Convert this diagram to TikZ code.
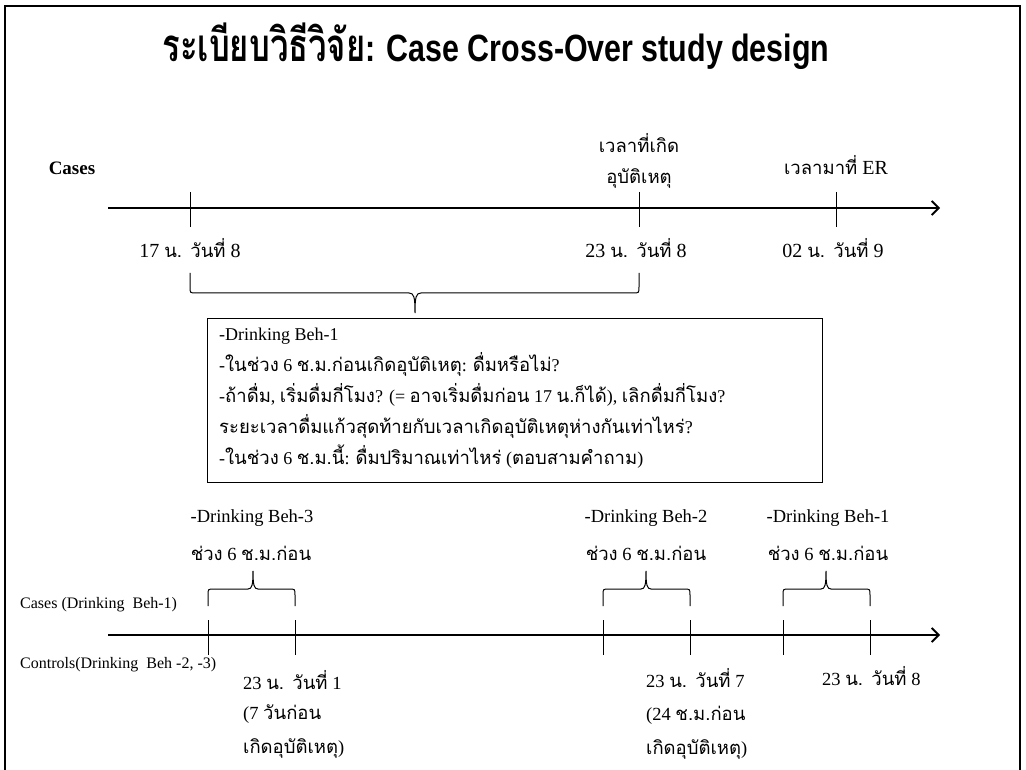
\documentclass[tikz,border=0pt]{standalone}
\usepackage{fontspec}
\setmainfont{Liberation Serif}
\newfontfamily\thai[Script=Thai]{Loma}
\newfontfamily\titlefont[FakeStretch=0.8]{Liberation Sans}
\newfontfamily\titlethai[Script=Thai,FakeStretch=0.72,Scale=1.2]{Loma}
\newcommand\tx[1]{{\thai\fontsize{18.5}{20}\selectfont #1}}
\usetikzlibrary{arrows.meta}
\tikzset{
  lab/.style={inner sep=0pt, anchor=center},
  labw/.style={inner sep=0pt, anchor=west},
  toplab/.style={lab, font=\fontsize{20}{22}\selectfont},
  axis/.style={line width=1.8pt, -{Straight Barb[length=7pt,width=14pt]}},
  tick/.style={line width=1pt},
  brace/.style={line width=1pt},
  frame/.style={line width=2.5pt},
}
\begin{document}
\begin{tikzpicture}[x=1pt,y=-1pt,font=\fontsize{18.5}{20}\selectfont]
\useasboundingbox (0,0) rectangle (1026,770);
\clip (0,0) rectangle (1026,770);
\fill[white] (0,0) rectangle (1026,770);
\draw[frame] (5,790) -- (5,6) -- (1020,6) -- (1020,790);

% title
\node[lab] (title) at (496,46) {\bfseries\fontsize{38}{40}\selectfont{\titlethai ระเบียบวิธีวิจัย}{\titlefont : Case Cross-Over study design}};

% top timeline
\node[lab] (cases) at (72,168) {\bfseries\fontsize{19}{20}\selectfont Cases};
\coordinate (a0) at (108,208);
\coordinate (a1) at (940,208);
\draw[axis] (a0) -- (a1);
\foreach \x/\n in {190/t1,639/t2,836/t3}{
  \coordinate (\n u) at (\x,192);
  \coordinate (\n d) at (\x,227);
  \draw[tick] (\n u) -- (\n d);
}
\node[toplab] (l1) at (190,248) {17 \tx{น. วันที่} 8};
\node[toplab] (l2) at (636,248) {23 \tx{น. วันที่} 8};
\node[toplab] (l3) at (833,248) {02 \tx{น. วันที่} 9};
\node[toplab] (ev1) at (639,143) {\tx{เวลาที่เกิด}};
\node[toplab] (ev2) at (639,178) {\tx{อุบัติเหตุ}};
\node[toplab] (er) at (836,165) {\tx{เวลามาที่} ER};

% top brace
\coordinate (b1) at (190,273);
\coordinate (b2) at (639,273);
\coordinate (btip) at (415,313);
\draw[brace] (b1) -- (190,287) .. controls (190,293) .. (196,293) -- (409,293)
  .. controls (414,293) and (415,297) .. (btip)
  .. controls (415,297) and (416,293) .. (421,293) -- (633,293)
  .. controls (639,293) .. (639,287) -- (b2);

% box
\node[draw, line width=1pt, minimum width=615pt, minimum height=164pt, inner sep=0pt] (box) at (514.5,400) {};
\node[labw, align=left, font=\fontsize{18}{31}\selectfont] (boxtext) at (219,398) {%
-Drinking Beh-1\\
-\tx{ในช่วง} 6 \tx{ช.ม.ก่อนเกิดอุบัติเหตุ}: \tx{ดื่มหรือไม่}?\\
-\tx{ถ้าดื่ม}, \tx{เริ่มดื่มกี่โมง}? (= \tx{อาจเริ่มดื่มก่อน} 17 \tx{น.ก็ได้}), \tx{เลิกดื่มกี่โมง}?\\
\tx{ระยะเวลาดื่มแก้วสุดท้ายกับเวลาเกิดอุบัติเหตุห่างกันเท่าไหร่}?\\
-\tx{ในช่วง} 6 \tx{ช.ม.นี้}: \tx{ดื่มปริมาณเท่าไหร่} (\tx{ตอบสามคำถาม})};

% bottom timeline
\node[labw, font=\fontsize{16}{18}\selectfont] (casesb) at (20,605) {Cases (Drinking\ \ Beh-1)};
\node[labw, font=\fontsize{16}{18}\selectfont] (controls) at (20,665) {Controls(Drinking\ \ Beh -2, -3)};
\coordinate (c0) at (108,635);
\coordinate (c1) at (940,635);
\draw[axis] (c0) -- (c1);
\foreach \x/\n in {208/s1,295/s2,603/s3,690/s4,783/s5,870/s6}{
  \coordinate (\n u) at (\x,620);
  \coordinate (\n d) at (\x,655);
  \draw[tick] (\n u) -- (\n d);
}
% bottom braces
\foreach \l/\r/\m/\n in {208/295/253/p1,603/690/646/p2,783/870/826/p3}{
  \coordinate (\n l) at (\l,606);
  \coordinate (\n r) at (\r,606);
  \coordinate (\n t) at (\m,571);
  \draw[brace] (\n l) -- (\l,595) .. controls (\l,589) .. (\l+6,589) -- (\m-5,589)
    .. controls (\m-1,589) and (\m,585) .. (\n t)
    .. controls (\m,585) and (\m+1,589) .. (\m+5,589) -- (\r-6,589)
    .. controls (\r,589) .. (\r,595) -- (\n r);
}
\node[lab] (d3a) at (252,518) {-Drinking Beh-3};
\node[lab] (d3b) at (251,553) {\tx{ช่วง} 6 \tx{ช.ม.ก่อน}};
\node[lab] (d2a) at (646,518) {-Drinking Beh-2};
\node[lab] (d2b) at (646,553) {\tx{ช่วง} 6 \tx{ช.ม.ก่อน}};
\node[lab] (d1a) at (828,518) {-Drinking Beh-1};
\node[lab] (d1b) at (828,553) {\tx{ช่วง} 6 \tx{ช.ม.ก่อน}};

\node[labw] (w1a) at (243,680) {23 \tx{น. วันที่} 1};
\node[labw] (w1b) at (243,714) {(7 \tx{วันก่อน}};
\node[labw] (w1c) at (243,748) {\tx{เกิดอุบัติเหตุ})};
\node[labw] (w7a) at (646,678) {23 \tx{น. วันที่} 7};
\node[labw] (w7b) at (646,715) {(24 \tx{ช.ม.ก่อน}};
\node[labw] (w7c) at (646,749) {\tx{เกิดอุบัติเหตุ})};
\node[labw] (w8a) at (822,676) {23 \tx{น. วันที่} 8};
\end{tikzpicture}
\end{document}
